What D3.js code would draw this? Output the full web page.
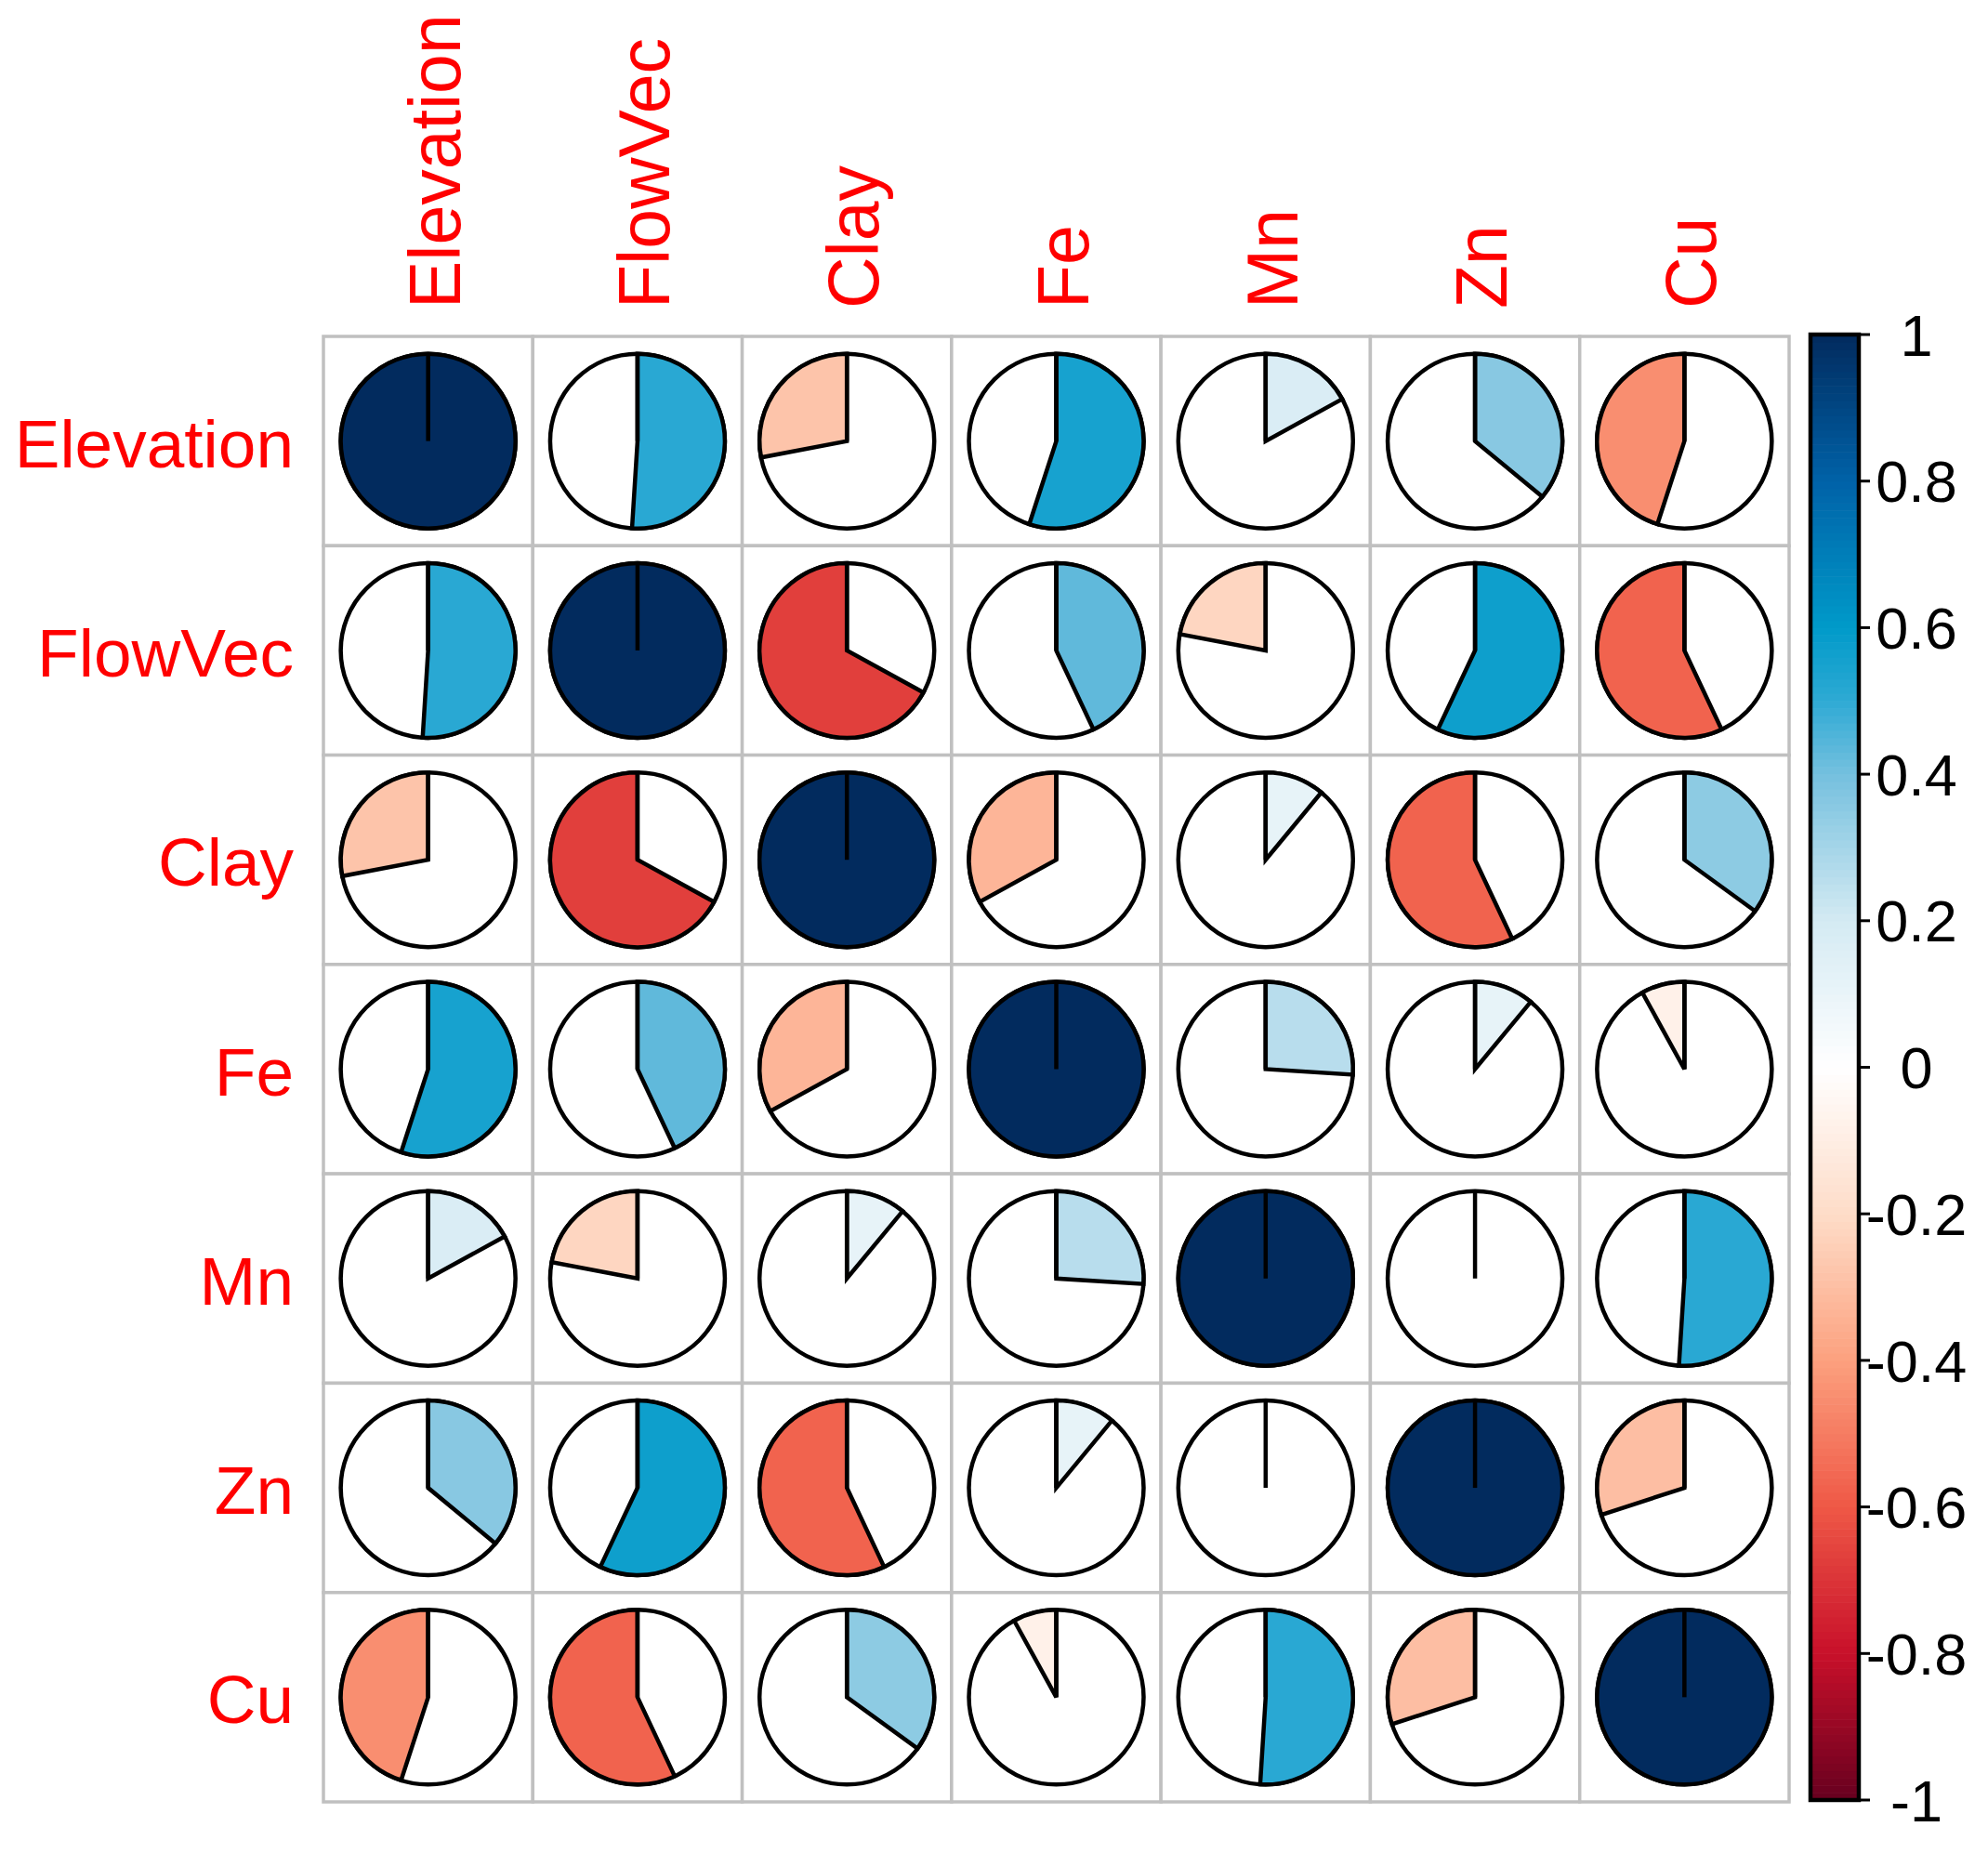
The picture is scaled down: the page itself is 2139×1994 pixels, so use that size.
<!DOCTYPE html>
<html>
<head>
<meta charset="utf-8">
<script src="https://cdn.jsdelivr.net/npm/d3@7"></script>
<style>
  html, body { margin: 0; padding: 0; background: #ffffff; }
  svg { display: block; }
  text { font-family: "Liberation Sans", Arial, sans-serif; }
</style>
</head>
<body>
<svg id="chart" width="2139" height="1994"></svg>
<script>
// ---- data ----
const variables = ["Elevation", "FlowVec", "Clay", "Fe", "Mn", "Zn", "Cu"];
const rowElevation = [1.00, 0.51, -0.28, 0.55, 0.17, 0.36, -0.45];
const rowFlowVec   = [0.51, 1.00, -0.67, 0.43, -0.22, 0.57, -0.57];
const rowClay      = [-0.28, -0.67, 1.00, -0.33, 0.11, -0.57, 0.35];
const rowFe        = [0.55, 0.43, -0.33, 1.00, 0.26, 0.11, -0.08];
const rowMn        = [0.17, -0.22, 0.11, 0.26, 1.00, 0.00, 0.51];
const rowZn        = [0.36, 0.57, -0.57, 0.11, 0.00, 1.00, -0.30];
const rowCu        = [-0.45, -0.57, 0.35, -0.08, 0.51, -0.30, 1.00];
const corrRows = [rowElevation, rowFlowVec, rowClay, rowFe, rowMn, rowZn, rowCu];
const legendTicks = [1, 0.8, 0.6, 0.4, 0.2, 0, -0.2, -0.4, -0.6, -0.8, -1];
const tickLabels = ["1", "0.8", "0.6", "0.4", "0.2", "0", "-0.2", "-0.4", "-0.6", "-0.8", "-1"];

// colour ramp (style)
const colorStops = [-1, -0.8, -0.6, -0.4, -0.2, 0, 0.2, 0.4, 0.5, 0.6, 0.8, 1];
const colorHex = ["#67001F", "#C8102A", "#EF5846", "#FCA07E", "#FEDCC8", "#FFFFFF",
                  "#D4EAF3", "#75C0DE", "#2EAAD4", "#009AC9", "#0062A8", "#022B5E"];

const svg = d3.select("#chart");
const color = d3.scaleLinear().domain(colorStops).range(colorHex).interpolate(d3.interpolateRgb);

const x = d3.scaleBand().domain(variables).range([348, 1925]);
const y = d3.scaleBand().domain(variables).range([362, 1939]);
const R = 94;

const cells = [];
variables.forEach((rv, i) => {
  variables.forEach((cv, j) => {
    cells.push({ row: rv, col: cv, v: corrRows[i][j] });
  });
});

// grid
svg.append("g").selectAll("rect").data(cells).join("rect")
  .attr("x", d => x(d.col)).attr("y", d => y(d.row))
  .attr("width", x.bandwidth()).attr("height", y.bandwidth())
  .attr("fill", "#ffffff").attr("stroke", "#C0C0C0").attr("stroke-width", 3.5);

const arc = d3.arc().innerRadius(0).outerRadius(R).startAngle(0);

const g = svg.append("g").selectAll("g").data(cells).join("g")
  .attr("transform", d => `translate(${x(d.col) + x.bandwidth() / 2},${y(d.row) + y.bandwidth() / 2})`);

g.append("circle").attr("r", R).attr("fill", "#ffffff").attr("stroke", "#000").attr("stroke-width", 4.5);
g.filter(d => d.v !== 0).append("path")
  .attr("d", d => arc({ endAngle: d.v * 2 * Math.PI }))
  .attr("fill", d => color(d.v)).attr("stroke", "#000").attr("stroke-width", 4.5)
  .attr("stroke-linejoin", "miter");
g.append("line").attr("x1", 0).attr("y1", 0).attr("x2", 0).attr("y2", -R)
  .attr("stroke", "#000").attr("stroke-width", 4.5);

// row labels
svg.append("g").selectAll("text").data(variables).join("text")
  .attr("x", 316).attr("y", d => y(d) + y.bandwidth() / 2 + 28)
  .attr("text-anchor", "end").attr("fill", "#FF0000").attr("font-size", 73)
  .text(d => d);

// column labels
svg.append("g").selectAll("text").data(variables).join("text")
  .attr("transform", d => `translate(${x(d) + x.bandwidth() / 2 + 34},332) rotate(-90)`)
  .attr("text-anchor", "start").attr("fill", "#FF0000").attr("font-size", 77)
  .text(d => d);

// colour legend
const ly = d3.scaleLinear().domain([-1, 1]).range([1937, 360]);
const nBins = 200;
const bins = d3.range(nBins).map(k => -1 + (k + 0.5) * 2 / nBins);
const lg = svg.append("g");
lg.selectAll("rect.bin").data(bins).join("rect").attr("class", "bin")
  .attr("x", 1948).attr("width", 52)
  .attr("y", d => ly(d + 1 / nBins)).attr("height", d => ly(d - 1 / nBins) - ly(d + 1 / nBins) + 0.6)
  .attr("fill", d => color(d));
lg.append("rect").attr("x", 1948).attr("y", 360).attr("width", 52).attr("height", 1577)
  .attr("fill", "none").attr("stroke", "#000").attr("stroke-width", 4.5);
lg.selectAll("line.tick").data(legendTicks).join("line").attr("class", "tick")
  .attr("x1", 2000).attr("x2", 2012).attr("y1", d => ly(d)).attr("y2", d => ly(d))
  .attr("stroke", "#000").attr("stroke-width", 3);
lg.selectAll("text").data(legendTicks).join("text")
  .attr("x", 2062).attr("y", d => ly(d)).attr("dy", "0.36em")
  .attr("text-anchor", "middle").attr("font-size", 63).attr("fill", "#000")
  .text((d, i) => tickLabels[i]);
</script>
</body>
</html>
